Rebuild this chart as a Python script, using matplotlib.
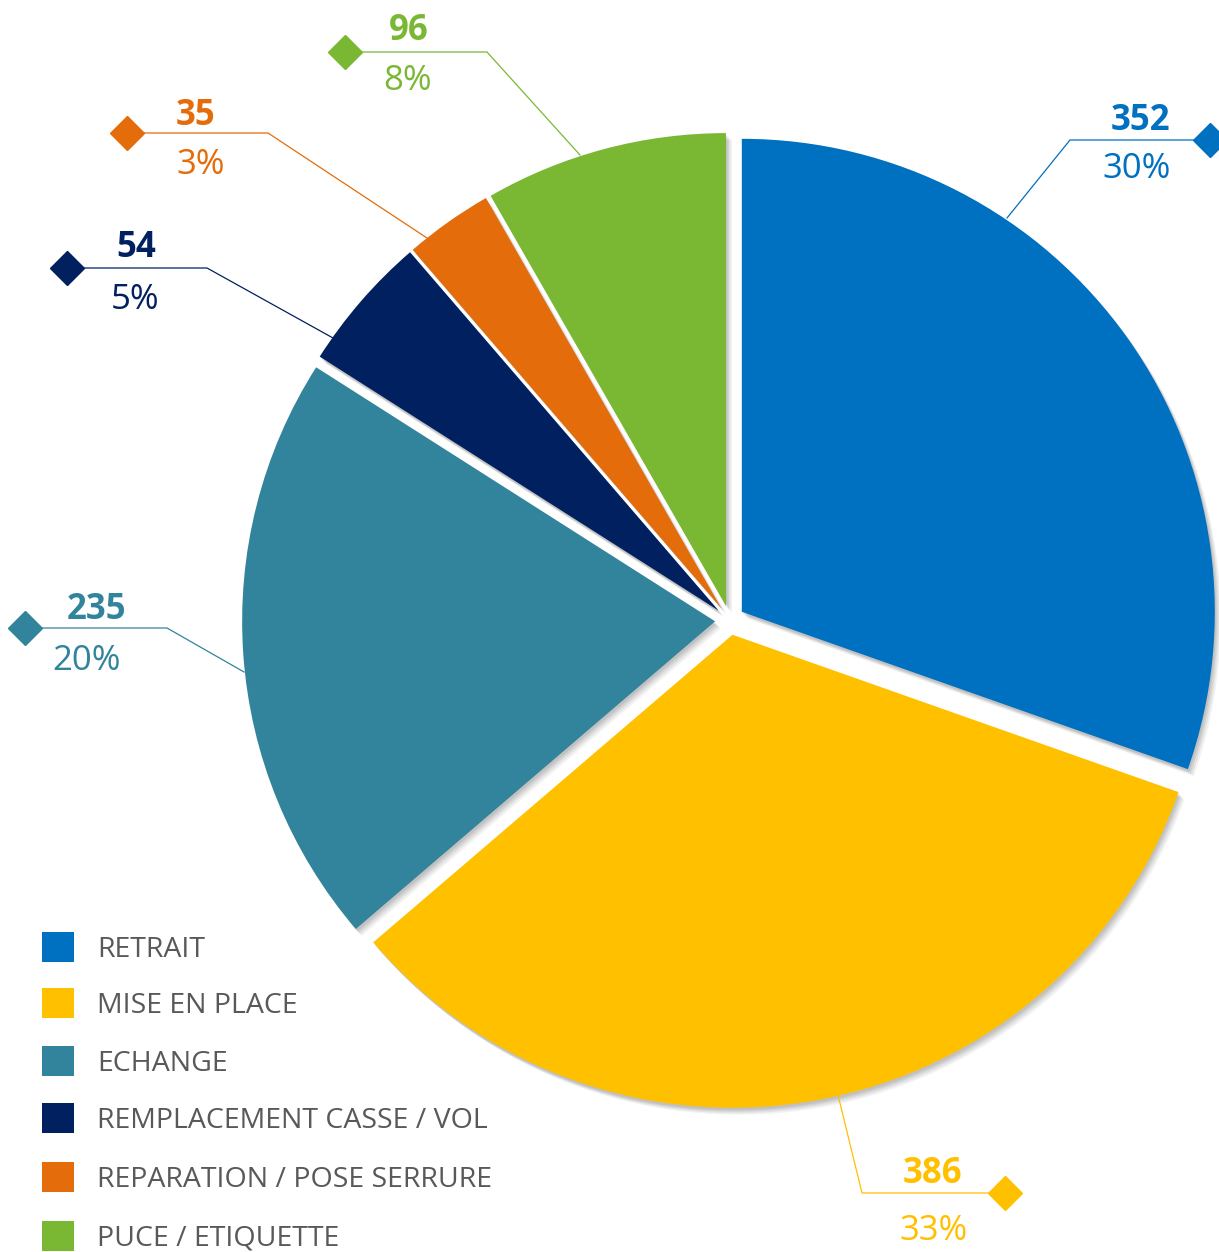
import matplotlib
matplotlib.use("Agg")
import matplotlib.pyplot as plt

plt.rcParams['font.family'] = ['Open Sans', 'DejaVu Sans']

categories = ["RETRAIT", "MISE EN PLACE", "ECHANGE", "REMPLACEMENT CASSE / VOL",
              "REPARATION / POSE SERRURE", "PUCE / ETIQUETTE"]
values = [352, 386, 235, 54, 35, 96]
pct_labels = ["30%", "33%", "20%", "5%", "3%", "8%"]
colors = ["#0070C0", "#FFC000", "#31849B", "#002060", "#E46C0A", "#7AB834"]

W, H = 1219, 1252
fig = plt.figure(figsize=(W / 100, H / 100), dpi=100)
ax = fig.add_axes([0, 0, 1, 1])

def py(y):
    return H - y

cx, cy, R, ex = 729.8, py(620.3), 473, 14.7

# soft shadow layers
for dx, dy, a in [(6, -7, 0.05), (4.5, -5.5, 0.06), (3, -4, 0.07), (1.5, -2.5, 0.08)]:
    ax.pie(values, colors=['black'] * len(values), startangle=90, counterclock=False,
           radius=R, center=(cx + dx, cy + dy), explode=[ex] * len(values),
           wedgeprops=dict(linewidth=0, alpha=a), frame=True)
wedges, _ = ax.pie(values, colors=colors, startangle=90, counterclock=False,
                   radius=R, center=(cx, cy), explode=[ex] * len(values),
                   wedgeprops=dict(linewidth=0), frame=True)

# annotation geometry (pixel coords): edge point, elbow, end (diamond), value text pos, pct text pos
ann = [
    ((1007, 218), (1070, 140), (1210, 140), (1140, 121), (1137, 169)),
    ((838, 1095), (862, 1193), (1005, 1193), (932, 1174), (934, 1231)),
    ((244, 672), (167, 628), (25, 628), (96, 610), (86, 661)),
    ((333, 338), (207, 268), (67, 268), (136, 248), (135, 300)),
    ((427, 238), (268, 133), (127, 133), (196, 116), (201, 165)),
    ((580, 155), (487, 52), (345, 52), (409, 31), (408, 81)),
]
for (p0, p1, p2, tv, tp), v, pl, c in zip(ann, values, pct_labels, colors):
    ax.plot([p0[0], p1[0], p2[0]], [py(p0[1]), py(p1[1]), py(p2[1])], color=c, lw=0.9,
            solid_joinstyle='miter', zorder=5, clip_on=False)
    ax.plot([p2[0]], [py(p2[1])], marker='D', ms=17, color=c, mec=c, zorder=6, clip_on=False)
    ax.text(tv[0], py(tv[1]), str(v), color=c, fontsize=25, fontweight='bold',
            ha='center', va='center', zorder=7)
    ax.text(tp[0], py(tp[1]), pl, color=c, fontsize=25, ha='center', va='center', zorder=7)

# legend
leg_y = [947, 1003, 1061, 1118, 1177, 1236]
for name, c, ly in zip(categories, colors, leg_y):
    ax.add_patch(plt.Rectangle((42, py(ly) - 15), 32, 30, color=c, lw=0, zorder=8))
    ax.text(97, py(ly + 3), name, color='#595959', fontsize=20.5, ha='left', va='center', zorder=8)

ax.set_xlim(0, W)
ax.set_ylim(0, H)
ax.set_aspect('auto')
ax.axis('off')
fig.savefig("out.png", dpi=100)
